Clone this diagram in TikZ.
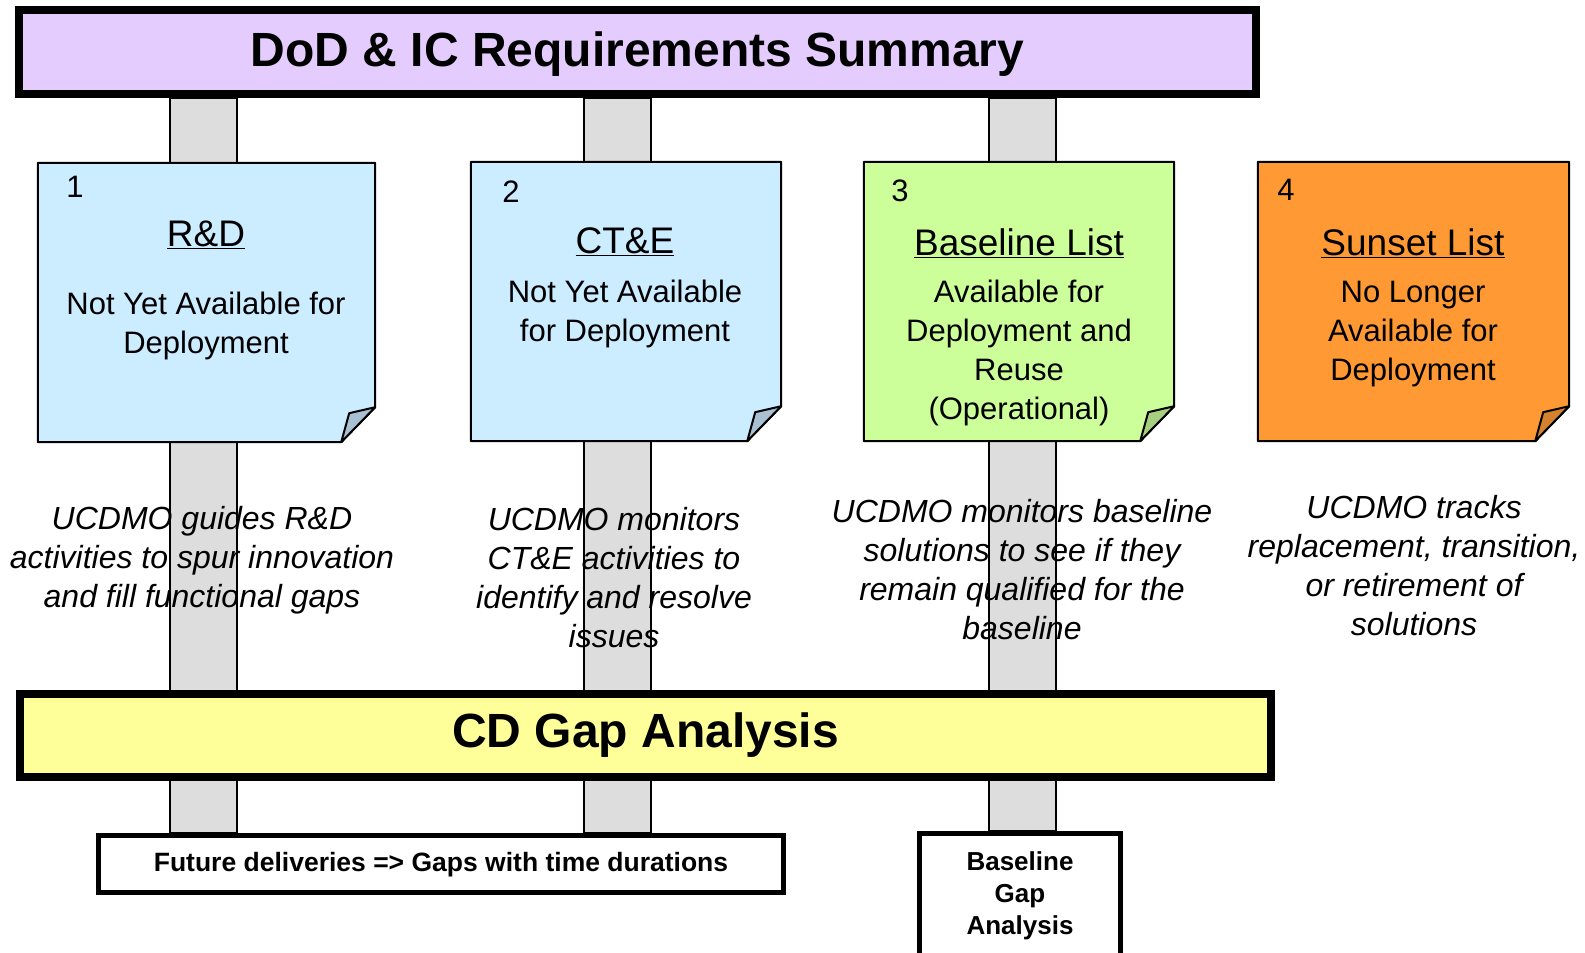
\documentclass[tikz,border=0pt]{standalone}
\usepackage{fontspec}
\setmainfont{Liberation Sans}
\usetikzlibrary{calc}
\definecolor{lav}{HTML}{E4CCFE}
\definecolor{cardblue}{HTML}{CCECFF}
\definecolor{foldblue}{HTML}{A9C0D2}
\definecolor{cardgreen}{HTML}{CCFF99}
\definecolor{foldgreen}{HTML}{A6D07F}
\definecolor{cardorange}{HTML}{FF9933}
\definecolor{foldorange}{HTML}{D5822E}
\definecolor{gapyellow}{HTML}{FFFF99}
\definecolor{pillargray}{HTML}{DDDDDD}
\newcommand\notecard[3]{%
  \filldraw[fill=#2, line width=2pt, line join=round] (#1.north west) -- (#1.north east) -- ($(#1.south east)+(0,-35)$) -- ($(#1.south east)+(-34,0)$) -- (#1.south west) -- cycle;
  \filldraw[fill=#3, line width=2pt, line join=round] ($(#1.south east)+(-34,0)$) -- ($(#1.south east)+(-26,-29)$) -- ($(#1.south east)+(0,-35)$) -- cycle;}
\begin{document}
\begin{tikzpicture}[x=1pt,y=-1pt,
  card/.style={draw=none, minimum width=#1, minimum height=279pt, inner sep=0pt},
  num/.style={font=\fontsize{31}{37}\selectfont},
  ctitle/.style={font=\fontsize{37}{44}\selectfont},
  cbody/.style={font=\fontsize{31}{39}\selectfont, align=center},
  desc/.style={font=\fontsize{32}{39}\selectfont\itshape, align=center},
  pillar/.style={draw=black, line width=2pt, fill=pillargray},
  bigbox/.style={draw=black, line width=8pt, inner sep=0pt, font=\fontsize{48}{56}\selectfont\bfseries},
  smallbox/.style={draw=black, line width=5pt, fill=white, inner sep=0pt},
  boldtext/.style={font=\fontsize{26.5}{32}\selectfont\bfseries, align=center}]
\useasboundingbox (0,0) rectangle (1585,953);
\clip (0,0) rectangle (1585,953);
% frame nodes
\node[bigbox, fill=lav, minimum width=1237pt, minimum height=84pt] (title) at (637.5,52) {};
\node[smallbox, minimum width=685pt, minimum height=57pt] (fut) at (441,864) {};
\node[smallbox, minimum width=201pt, minimum height=146pt] (base) at (1020,906.5) {};
\coordinate (p1) at (203.5,0);
\coordinate (p2) at (617.5,0);
\coordinate (p3) at (1022.5,0);
% pillars
\draw[pillar] ($(title.south -| p1)+(-33.5,0)$) rectangle ($(fut.north -| p1)+(33.5,0)$);
\draw[pillar] ($(title.south -| p2)+(-33.5,0)$) rectangle ($(fut.north -| p2)+(33.5,0)$);
\draw[pillar] ($(title.south -| p3)+(-33.5,0)$) rectangle ($(base.north -| p3)+(33.5,0)$);
% title
\node[bigbox, fill=lav, minimum width=1237pt, minimum height=84pt, text depth=6pt] (title2) at (637.5,52) {DoD \& IC Requirements Summary};
% cards
\node[card=337pt] (c1) at (206.5,302.5) {};
\node[card=310pt] (c2) at (626,301.5) {};
\node[card=310pt] (c3) at (1019,301.5) {};
\node[card=311pt] (c4) at (1413.5,301.5) {};
\notecard{c1}{cardblue}{foldblue}
\notecard{c2}{cardblue}{foldblue}
\notecard{c3}{cardgreen}{foldgreen}
\notecard{c4}{cardorange}{foldorange}
\node[num] (n1) at (75,187) {1};
\node[num] (n2) at (511,192) {2};
\node[num] (n3) at (900,191) {3};
\node[num] (n4) at (1286,190) {4};
\node[ctitle] (t1) at (206,235) {\underline{R\&D}};
\node[ctitle] (t2) at (625,242) {\underline{CT\&E}};
\node[ctitle] (t3) at (1019,243) {\underline{Baseline List}};
\node[ctitle] (t4) at (1413,243) {\underline{Sunset List}};
\node[cbody] (b1) at (206,326) {Not Yet Available for\\Deployment};
\node[cbody] (b2) at (625,314) {Not Yet Available\\for Deployment};
\node[cbody] (b3) at (1019,353) {Available for\\Deployment and\\Reuse\\(Operational)};
\node[cbody] (b4) at (1413,334) {No Longer\\Available for\\Deployment};
% descriptions
\node[desc] (d1) at (202,560) {UCDMO guides R\&D\\activities to spur innovation\\and fill functional gaps};
\node[desc] (d2) at (614,577.5) {UCDMO monitors\\CT\&E activities to\\identify and resolve\\issues};
\node[desc] (d3) at (1022,569.5) {UCDMO monitors baseline\\solutions to see if they\\remain qualified for the\\baseline};
\node[desc] (d4) at (1414,566) {UCDMO tracks\\replacement, transition,\\or retirement of\\solutions};
% gap analysis
\node[bigbox, fill=gapyellow, minimum width=1251pt, minimum height=83pt] (gap) at (645.5,735) {CD Gap Analysis};
% bottom texts
\node[boldtext] (futt) at ($(fut.center)+(0,1)$) {Future deliveries => Gaps with time durations};
\node[boldtext, font=\fontsize{26}{32}\selectfont\bfseries] (baset) at (1020,896) {Baseline\\Gap\\Analysis};
\end{tikzpicture}
\end{document}
